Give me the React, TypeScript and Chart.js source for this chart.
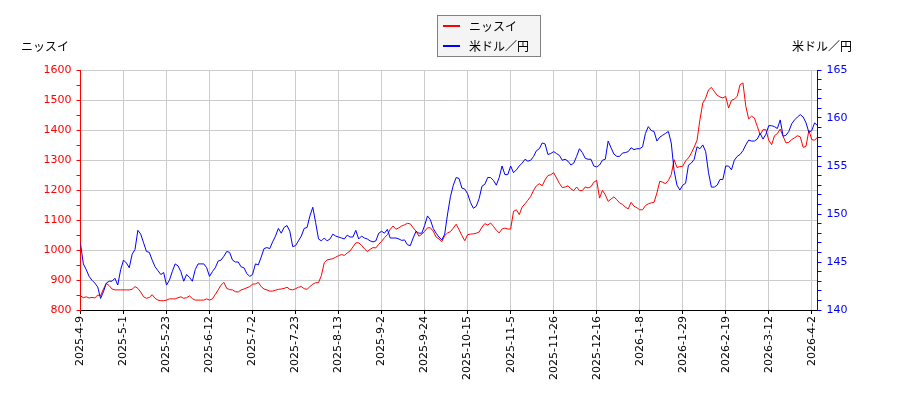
import React, { useEffect, useRef } from 'react';
import { Chart, registerables } from 'chart.js';

Chart.register(...registerables);

const seriesNames = ['ニッスイ', '米ドル／円'];
const leftTitle = 'ニッスイ';
const rightTitle = '米ドル／円';

const tickLabels = [
  '2025-4-9', '2025-5-1', '2025-5-23', '2025-6-12', '2025-7-2', '2025-7-23',
  '2025-8-13', '2025-9-2', '2025-9-24', '2025-10-15', '2025-11-5', '2025-11-26',
  '2025-12-16', '2026-1-8', '2026-1-29', '2026-2-19', '2026-3-12', '2026-4-2',
];
const tickEvery = 15;

// ニッスイ (left axis, yen)
const nissui = [
  847, 841, 844, 840, 842, 840, 850, 847, 870, 889,
  881, 870, 867, 867, 867, 867, 867, 867, 869, 878,
  872, 860, 844, 839, 842, 851, 839, 833,
  831, 831, 833, 837, 837, 837, 841, 844, 839, 841,
  847, 838, 833, 833, 833, 833, 837, 833, 837, 852,
  867, 883, 892, 872, 868, 867, 861, 860, 867, 870,
  874, 878, 886, 887, 892, 878, 870, 867, 863, 863,
  866, 869, 870, 872, 876, 869, 867, 871, 876, 878,
  871, 869, 878, 886, 891, 891, 915, 958, 967, 969,
  971, 976, 981,
  985, 982, 990, 997, 1010, 1024, 1024, 1016, 1004, 995,
  1002, 1008, 1007, 1019, 1029, 1041, 1051, 1069, 1080, 1069,
  1074, 1080, 1084, 1089, 1087, 1074, 1063, 1046, 1052, 1062,
  1074, 1074, 1063,
  1043, 1037, 1028, 1048, 1057, 1061, 1073, 1086, 1068, 1048,
  1031, 1051, 1053, 1054, 1056, 1060, 1076, 1088, 1083, 1090,
  1079, 1066, 1057, 1070, 1073, 1070, 1070, 1129, 1134, 1118,
  1143, 1154, 1166, 1179, 1199, 1214, 1221, 1214, 1234, 1248,
  1251, 1258, 1240, 1222, 1208, 1210,
  1214, 1204, 1198, 1210, 1198, 1198, 1210, 1207, 1211, 1226,
  1232, 1173, 1199, 1184, 1162, 1170, 1177, 1168, 1157, 1152,
  1143, 1137, 1159, 1146, 1141, 1134, 1134, 1148, 1154, 1157,
  1159, 1190, 1229, 1226, 1221, 1232, 1251, 1301, 1275, 1278,
  1279,
  1297, 1307, 1323, 1343, 1366, 1434, 1490, 1506, 1534, 1542,
  1529, 1516, 1510, 1507, 1512, 1473, 1499, 1503, 1512, 1551,
  1557, 1479, 1437, 1446, 1440, 1412, 1384, 1401, 1401, 1366,
  1351, 1381, 1388, 1403, 1379, 1357, 1359, 1368, 1374, 1381,
  1377, 1342, 1346, 1399, 1368, 1366, 1376,
];

// 米ドル／円 (right axis)
const usdjpy = [
  146.9, 144.8, 144.2, 143.5, 143.1, 142.8, 142.4, 141.2, 141.9, 142.8,
  143.0, 143.0, 143.3, 142.6, 144.2, 145.2, 144.9, 144.4, 145.8, 146.3,
  148.3, 147.9, 147.0, 146.1, 146.0, 145.2, 144.5, 144.1, 143.7, 143.9,
  142.6, 143.1, 144.0, 144.8, 144.6, 144.0, 143.0, 143.7, 143.4, 143.0,
  144.2, 144.8, 144.8, 144.8, 144.4, 143.5, 144.0, 144.4, 145.1, 145.2,
  145.6, 146.1, 146.0, 145.2, 145.0, 145.0, 144.5, 144.4, 143.8, 143.5,
  143.7, 144.8, 144.7, 145.5, 146.4, 146.5, 146.4, 147.1, 147.7, 148.5,
  148.0, 148.6, 148.8, 148.2, 146.6, 146.7, 147.2, 147.7, 148.5, 148.6,
  149.8, 150.7, 149.1, 147.4, 147.2, 147.5, 147.2, 147.4, 147.9, 147.7,
  147.6, 147.5, 147.4, 147.8, 147.6, 147.6, 148.3, 147.4, 147.7, 147.5,
  147.4, 147.2, 147.1, 147.2, 148.0, 148.2, 148.0, 148.4, 147.5, 147.5,
  147.5, 147.4, 147.25, 147.3, 146.8, 146.7, 147.5, 148.2, 148.0, 148.0,
  148.8, 149.8, 149.4, 148.5, 148.0, 147.6, 147.3, 147.9, 150.0, 151.8,
  153.0, 153.8, 153.7, 152.7, 152.6, 152.1, 151.2, 150.6, 150.8, 151.6,
  152.9, 153.1, 153.8, 153.8, 153.5, 153.0, 153.8, 155.0, 154.1, 154.1,
  155.0, 154.3, 154.6, 155.0, 155.3, 155.7, 155.5, 155.6, 156.0, 156.6,
  156.8, 157.4, 157.3, 156.2, 156.3, 156.5, 156.3, 156.1, 155.6, 155.7,
  155.5, 155.1, 155.3, 156.0, 156.8, 156.4, 155.8, 155.7, 155.7, 155.0,
  154.9, 155.1, 155.6, 155.7, 157.6, 156.9, 156.25, 156.0, 156.0, 156.35,
  156.4, 156.5, 156.9, 156.7, 156.8, 156.8, 157.0, 158.4, 159.1, 158.7,
  158.6, 157.6, 158.0, 158.2, 158.4, 158.6, 157.4, 154.5, 153.0, 152.5,
  153.0, 153.2, 155.1, 155.3, 155.7, 157.0, 156.8, 157.2, 156.5, 154.3,
  152.8, 152.8, 153.0, 153.6, 153.6, 155.0, 155.0, 154.6, 155.6, 156.0,
  156.2, 156.6, 157.2, 157.7, 157.6, 157.6, 157.8, 158.4, 157.8, 158.3,
  159.2, 159.2, 159.1, 158.9, 159.8, 158.1, 158.2, 158.6, 159.4, 159.8,
  160.1, 160.35, 160.1, 159.5, 158.5, 158.7, 159.5, 159.2,
];

const RED = '#ff0000';
const BLUE = '#0000ff';
const GRID = '#cccccc';
const tickFont = { family: '"DejaVu Sans", sans-serif', size: 11 };
const jpFont = '12px "Noto Sans CJK JP", sans-serif';

const overlay = {
  id: 'overlay',
  afterDraw(chart: any) {
    const c = chart.ctx as CanvasRenderingContext2D;
    c.save();
    c.font = jpFont;
    c.fillStyle = '#000';
    c.textBaseline = 'middle';
    c.textAlign = 'left';
    c.fillText(leftTitle, 21, 46);
    c.textAlign = 'right';
    c.fillText(rightTitle, 852, 46);

    // legend box
    c.fillStyle = '#f4f4f4';
    c.fillRect(437, 15, 104, 42);
    c.strokeStyle = '#808080';
    c.lineWidth = 1;
    c.strokeRect(437.5, 15.5, 103, 41);
    const colors = [RED, BLUE];
    const rows = [26, 46];
    seriesNames.forEach((name, k) => {
      c.strokeStyle = colors[k];
      c.lineWidth = 2;
      c.beginPath();
      c.moveTo(443, rows[k]);
      c.lineTo(460, rows[k]);
      c.stroke();
      c.fillStyle = '#000';
      c.textAlign = 'left';
      c.fillText(name, 469, rows[k]);
    });
    c.restore();
  },
};

export default function App() {
  const ref = useRef<HTMLCanvasElement>(null);

  useEffect(() => {
    const lastIndex = nissui.length - 1;
    const chart = new Chart(ref.current as HTMLCanvasElement, {
      type: 'line',
      data: {
        datasets: [
          {
            label: seriesNames[0],
            data: nissui.map((y, i) => ({ x: i, y })),
            borderColor: RED,
            backgroundColor: RED,
            borderWidth: 1,
            pointRadius: 0,
            tension: 0,
            yAxisID: 'y',
            order: 1,
          },
          {
            label: seriesNames[1],
            data: usdjpy.map((y, i) => ({ x: i, y })),
            borderColor: BLUE,
            backgroundColor: BLUE,
            borderWidth: 1,
            pointRadius: 0,
            tension: 0,
            yAxisID: 'y1',
            order: 0,
          },
        ],
      },
      options: {
        responsive: false,
        animation: false,
        events: [],
        layout: { padding: { top: 70, left: 0, right: 0, bottom: 0 } },
        plugins: {
          legend: { display: false },
          tooltip: { enabled: false },
          title: { display: false },
        },
        scales: {
          x: {
            type: 'linear',
            min: 0,
            max: lastIndex,
            afterFit: (s: any) => {
              s.height = 90;
            },
            border: { color: '#000', width: 1 },
            grid: { color: GRID, tickColor: '#000', tickLength: 4 },
            ticks: {
              stepSize: tickEvery,
              includeBounds: false,
              autoSkip: false,
              maxRotation: 90,
              minRotation: 90,
              padding: 2,
              color: '#000',
              font: tickFont,
              callback: (v: any) => {
                const n = Number(v);
                if (n % tickEvery !== 0) return null;
                return tickLabels[n / tickEvery] ?? null;
              },
            },
          },
          y: {
            position: 'left',
            min: 800,
            max: 1600,
            afterFit: (s: any) => {
              s.width = 80.5;
            },
            border: { color: RED, width: 1 },
            grid: {
              color: (ctx: any) =>
                ctx.tick && ctx.tick.value % 100 === 0 ? GRID : 'rgba(0,0,0,0)',
              tickColor: RED,
              tickLength: 4,
            },
            ticks: {
              stepSize: 50,
              autoSkip: false,
              padding: 5,
              color: RED,
              font: tickFont,
              callback: (v: any) => (Number(v) % 100 === 0 ? String(v) : ''),
            },
          },
          y1: {
            position: 'right',
            min: 140,
            max: 165,
            afterFit: (s: any) => {
              s.width = 82.5;
            },
            border: { color: BLUE, width: 1 },
            grid: { drawOnChartArea: false, tickColor: BLUE, tickLength: 4 },
            ticks: {
              stepSize: 1,
              autoSkip: false,
              padding: 5,
              color: BLUE,
              font: tickFont,
              callback: (v: any) => (Number(v) % 5 === 0 ? String(v) : ''),
            },
          },
        },
      },
      plugins: [overlay],
    });
    return () => chart.destroy();
  }, []);

  return (
    <div style={{ position: 'absolute', left: 0, top: 0, width: 900, height: 400, background: '#fff' }}>
      <canvas ref={ref} width={900} height={400} style={{ display: 'block' }} />
    </div>
  );
}
